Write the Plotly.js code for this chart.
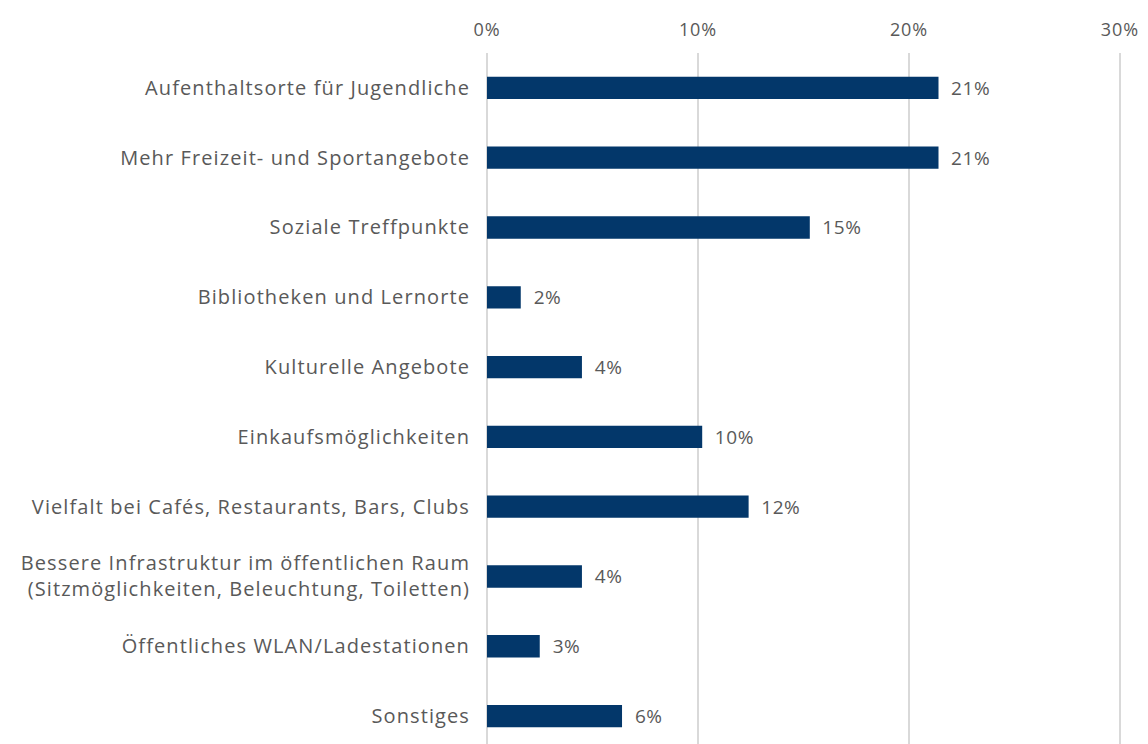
<!DOCTYPE html>
<html>
<head>
<meta charset="utf-8">
<script src="https://cdn.plot.ly/plotly-3.0.1.min.js"></script>
<style>
html,body{margin:0;padding:0;background:#fff;}
#chart{width:1148px;height:744px;}
#chart .xtick text{letter-spacing:0.9px;}
#chart .ytick text{letter-spacing:1.1px;}
#chart .bartext{letter-spacing:0.6px;}
</style>
</head>
<body>
<div id="chart"></div>
<script>
const categories = [
  "Aufenthaltsorte für Jugendliche",
  "Mehr Freizeit- und Sportangebote",
  "Soziale Treffpunkte",
  "Bibliotheken und Lernorte",
  "Kulturelle Angebote",
  "Einkaufsmöglichkeiten",
  "Vielfalt bei Cafés, Restaurants, Bars, Clubs",
  "Bessere Infrastruktur im öffentlichen Raum<br>(Sitzmöglichkeiten, Beleuchtung, Toiletten)",
  "Öffentliches WLAN/Ladestationen",
  "Sonstiges"
];
const values = [21.4, 21.4, 15.3, 1.6, 4.5, 10.2, 12.4, 4.5, 2.5, 6.4];
const valueLabels = ["21%", "21%", "15%", "2%", "4%", "10%", "12%", "4%", "3%", "6%"];
const tickValues = [0, 10, 20, 30];
const tickLabels = ["0%", "10%", "20%", "30%"];

const fontFamily = "'Open Sans', Lato, sans-serif";
const grey = "#595959";

const trace = {
  type: "bar",
  orientation: "h",
  x: values,
  y: categories,
  width: 0.32,
  marker: {color: "#03376A"},
  text: valueLabels.map(function(t){ return "\u00a0\u00a0" + t; }),
  textposition: "outside",
  constraintext: "none",
  cliponaxis: false,
  textfont: {family: fontFamily, size: 19, color: grey},
  hoverinfo: "none"
};

const layout = {
  width: 1148,
  height: 744,
  margin: {l: 487, r: 27, t: 53, b: 0, pad: 0},
  paper_bgcolor: "#fff",
  plot_bgcolor: "#fff",
  showlegend: false,
  font: {family: fontFamily, size: 19, color: grey},
  xaxis: {
    side: "top",
    range: [0, 30.05],
    tickvals: tickValues,
    ticktext: tickLabels,
    showgrid: true,
    gridcolor: "#d9d9d9",
    gridwidth: 1.5,
    zeroline: true,
    zerolinecolor: "#d9d9d9",
    zerolinewidth: 1.5,
    showline: false,
    ticks: "",
    ticklabelstandoff: 12,
    tickfont: {family: fontFamily, size: 18, color: grey},
    fixedrange: true
  },
  yaxis: {
    type: "category",
    range: [9.4, -0.5],
    showgrid: false,
    zeroline: false,
    showline: false,
    ticks: "",
    ticklabelstandoff: 16,
    tickfont: {family: fontFamily, size: 20, color: grey},
    fixedrange: true
  }
};

Plotly.newPlot("chart", [trace], layout, {displayModeBar: false, staticPlot: true});
</script>
</body>
</html>
